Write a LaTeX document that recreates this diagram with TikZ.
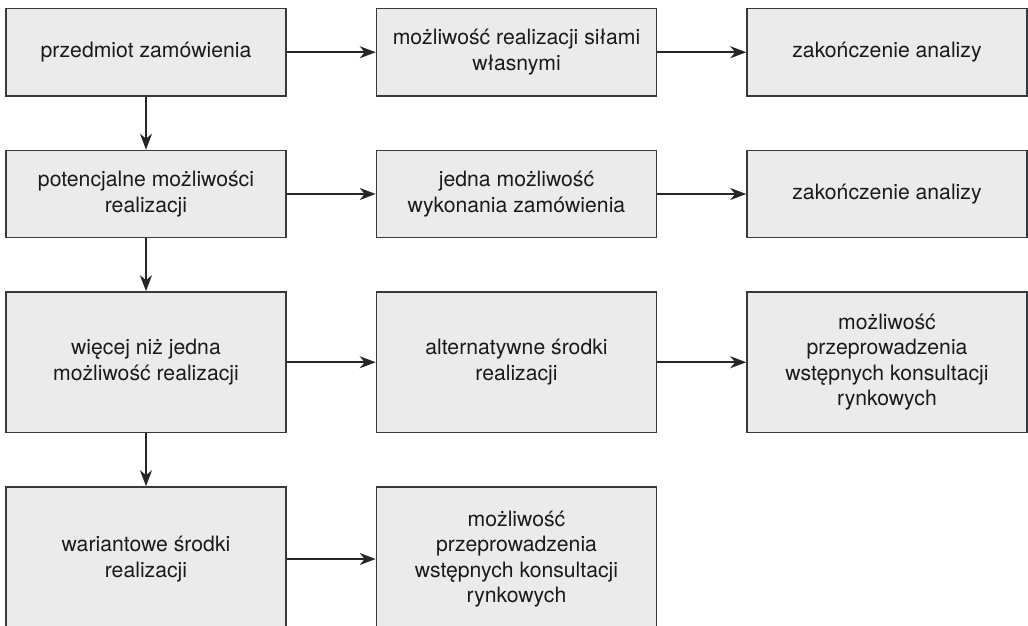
\documentclass[tikz,border=0pt]{standalone}
\usepackage{fontspec}
\setmainfont{TeX Gyre Heros}
\usetikzlibrary{arrows.meta}
\definecolor{boxfill}{HTML}{EBEBEB}
\definecolor{boxline}{HTML}{36393D}
\definecolor{txt}{HTML}{1A1A1A}
\tikzset{
  stepbox/.style={draw=boxline, fill=boxfill, line width=1.6pt, rectangle,
    minimum width=280pt, align=center, inner sep=0pt, text=txt,
    font=\fontsize{21.2}{25.5}\selectfont},
  conn/.style={draw=black!85, line width=1.6pt,
    -{Stealth[length=16pt, width=12pt, inset=5pt]}},
}
\begin{document}
\begin{tikzpicture}[x=1pt, y=-1pt]
\useasboundingbox (0,0) rectangle (1028,626);
\clip (0,0) rectangle (1028,626);
% row 1
\node[stepbox, minimum height=87.5pt] (a1) at (146,52.25) {przedmiot zamówienia};
\node[stepbox, minimum height=87.5pt] (b1) at (516.5,52.25) {możliwość realizacji siłami\\własnymi};
\node[stepbox, minimum height=87.5pt] (c1) at (887,52.25) {zakończenie analizy};
% row 2
\node[stepbox, minimum height=87pt] (a2) at (146,194) {potencjalne możliwości\\realizacji};
\node[stepbox, minimum height=87pt] (b2) at (516.5,194) {jedna możliwość\\wykonania zamówienia};
\node[stepbox, minimum height=87pt] (c2) at (887,194) {zakończenie analizy};
% row 3
\node[stepbox, minimum height=140.5pt] (a3) at (146,362.25) {więcej niż jedna\\możliwość realizacji};
\node[stepbox, minimum height=140.5pt] (b3) at (516.5,362.25) {alternatywne środki\\realizacji};
\node[stepbox, minimum height=140.5pt] (c3) at (887,362.25) {możliwość\\przeprowadzenia\\wstępnych konsultacji\\rynkowych};
% row 4
\node[stepbox, minimum height=144pt] (a4) at (146,559) {wariantowe środki\\realizacji};
\node[stepbox, minimum height=144pt] (b4) at (516.5,559) {możliwość\\przeprowadzenia\\wstępnych konsultacji\\rynkowych};
% connectors
\draw[conn] (a1.east) -- (b1.west);
\draw[conn] (b1.east) -- (c1.west);
\draw[conn] (a2.east) -- (b2.west);
\draw[conn] (b2.east) -- (c2.west);
\draw[conn] (a3.east) -- (b3.west);
\draw[conn] (b3.east) -- (c3.west);
\draw[conn] (a4.east) -- (b4.west);
\draw[conn] (a1.south) -- (a2.north);
\draw[conn] (a2.south) -- (a3.north);
\draw[conn] (a3.south) -- (a4.north);
\end{tikzpicture}
\end{document}
